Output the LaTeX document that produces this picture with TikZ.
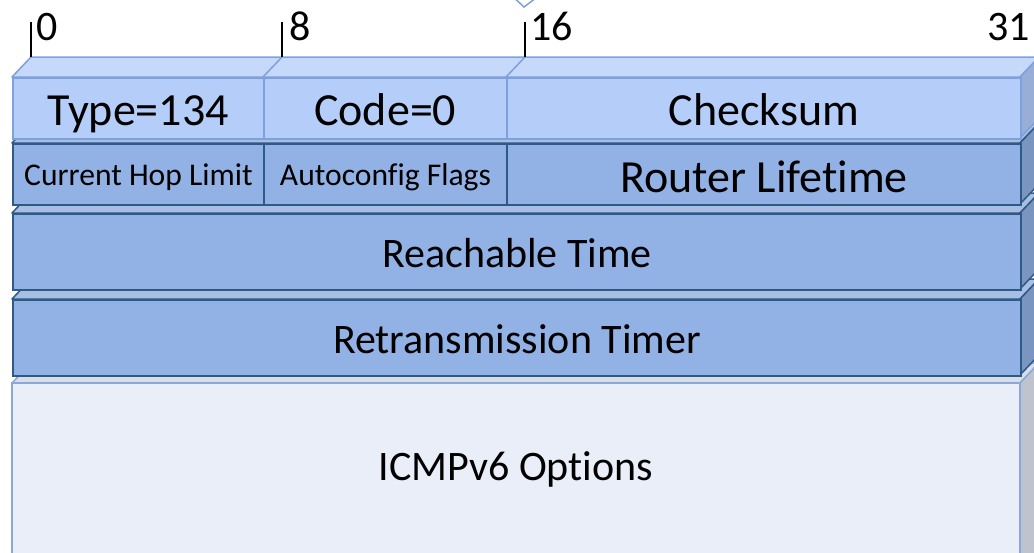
\documentclass[tikz,border=0pt]{standalone}
\usepackage{fontspec}
\setmainfont{Carlito}[Ligatures=NoCommon]
\definecolor{fillA}{HTML}{B4CDF9}
\definecolor{topA}{HTML}{C6D9FB}
\definecolor{sideA}{HTML}{98AED6}
\definecolor{bdA}{HTML}{7EA0DC}
\definecolor{fillB}{HTML}{92B2E5}
\definecolor{topB}{HTML}{A8BEE2}
\definecolor{sideB}{HTML}{7A95BF}
\definecolor{bdB}{HTML}{2E5A87}
\definecolor{fillC}{HTML}{E9EEF8}
\definecolor{topC}{HTML}{D8DDE6}
\definecolor{sideC}{HTML}{BEC4CE}
\definecolor{bdC}{HTML}{8AA8DE}
\newcommand\rowdepth[5]{%
  \draw[#5,line width=1.5pt,line join=round,fill=#3] (12,#1) -- (31,{#1-20}) -- (1039,{#1-20}) -- (1020,#1) -- cycle;
  \draw[#5,line width=1.5pt,line join=round,fill=#4] (1020,#1) -- (1039,{#1-20}) -- (1039,{#2-20}) -- (1020,#2) -- cycle;
}
\begin{document}
\begin{tikzpicture}[x=1pt,y=-1pt,
  cellA/.style={draw=bdA,fill=fillA,line width=1.5pt,inner sep=0pt,anchor=north west,minimum height=61pt,font=\fontsize{46}{50}\selectfont,text height=33.6pt,text depth=0pt},
  cellB/.style={draw=bdB,fill=fillB,line width=2pt,inner sep=0pt,anchor=north west,font=\fontsize{42}{46}\selectfont,text height=31pt,text depth=0pt},
  small/.style={font=\fontsize{31.6}{34}\selectfont,text height=21pt},
  big/.style={font=\fontsize{46}{50}\selectfont,text height=36pt},
  num/.style={anchor=base west,inner sep=0pt,font=\fontsize{42}{46}\selectfont},
  tick/.style={line width=1.5pt,black}]
\useasboundingbox (0,0) rectangle (1034,552);
\clip (0,0) rectangle (1034,552);
% partial shape at top
\draw[bdA,line width=1.5pt,fill=white] (508,-8) -- (524,7) -- (544,-8) -- cycle;
% row 5
\rowdepth{383}{600}{topC}{sideC}{bdC}
\draw[bdC,line width=1.5pt,fill=fillC] (12,383) rectangle (1020,600);
\node[font=\fontsize{42}{46}\selectfont] (opts) at (516,469) {ICMPv6 Options};
% row 4
\rowdepth{299}{375}{topB}{sideB}{bdB}
\node[cellB,minimum width=1008pt,minimum height=76pt] (retx) at (12,299) {Retransmission Timer};
% row 3
\rowdepth{213}{289}{topB}{sideB}{bdB}
\node[cellB,minimum width=1008pt,minimum height=76pt] (reach) at (12,213) {Reachable Time};
% row 2
\rowdepth{143}{204}{topB}{sideB}{bdB}
\node[cellB,small,minimum width=251pt,minimum height=61pt] (hop) at (12,143) {Current Hop Limit};
\node[cellB,small,minimum width=243pt,minimum height=61pt] (flags) at (263,143) {Autoconfig Flags};
\node[cellB,big,minimum width=514pt,minimum height=61pt] (life) at (506,143) {Router Lifetime};
% row 1
\rowdepth{77}{138}{topA}{sideA}{bdA}
\draw[bdA,line width=1.5pt] (263,77) -- (282,57) (506,77) -- (525,57);
\node[cellA,minimum width=251pt] (type) at (12,77) {Type=134};
\node[cellA,minimum width=243pt] (code) at (263,77) {Code=0};
\node[cellA,minimum width=514pt] (csum) at (506,77) {Checksum};
% bit ticks
\coordinate (t0) at (31,57);
\coordinate (t8) at (282,57);
\coordinate (t16) at (525,57);
\draw[tick] (t0) -- ++(0,-35);
\draw[tick] (t8) -- ++(0,-35);
\draw[tick] (t16) -- ++(0,-35);
\node[num] (n0) at (36,40) {0};
\node[num] (n8) at (289,40) {8};
\node[num] (n16) at (530,40) {16};
\node[num] (n31) at (987,40) {31};
\end{tikzpicture}
\end{document}
